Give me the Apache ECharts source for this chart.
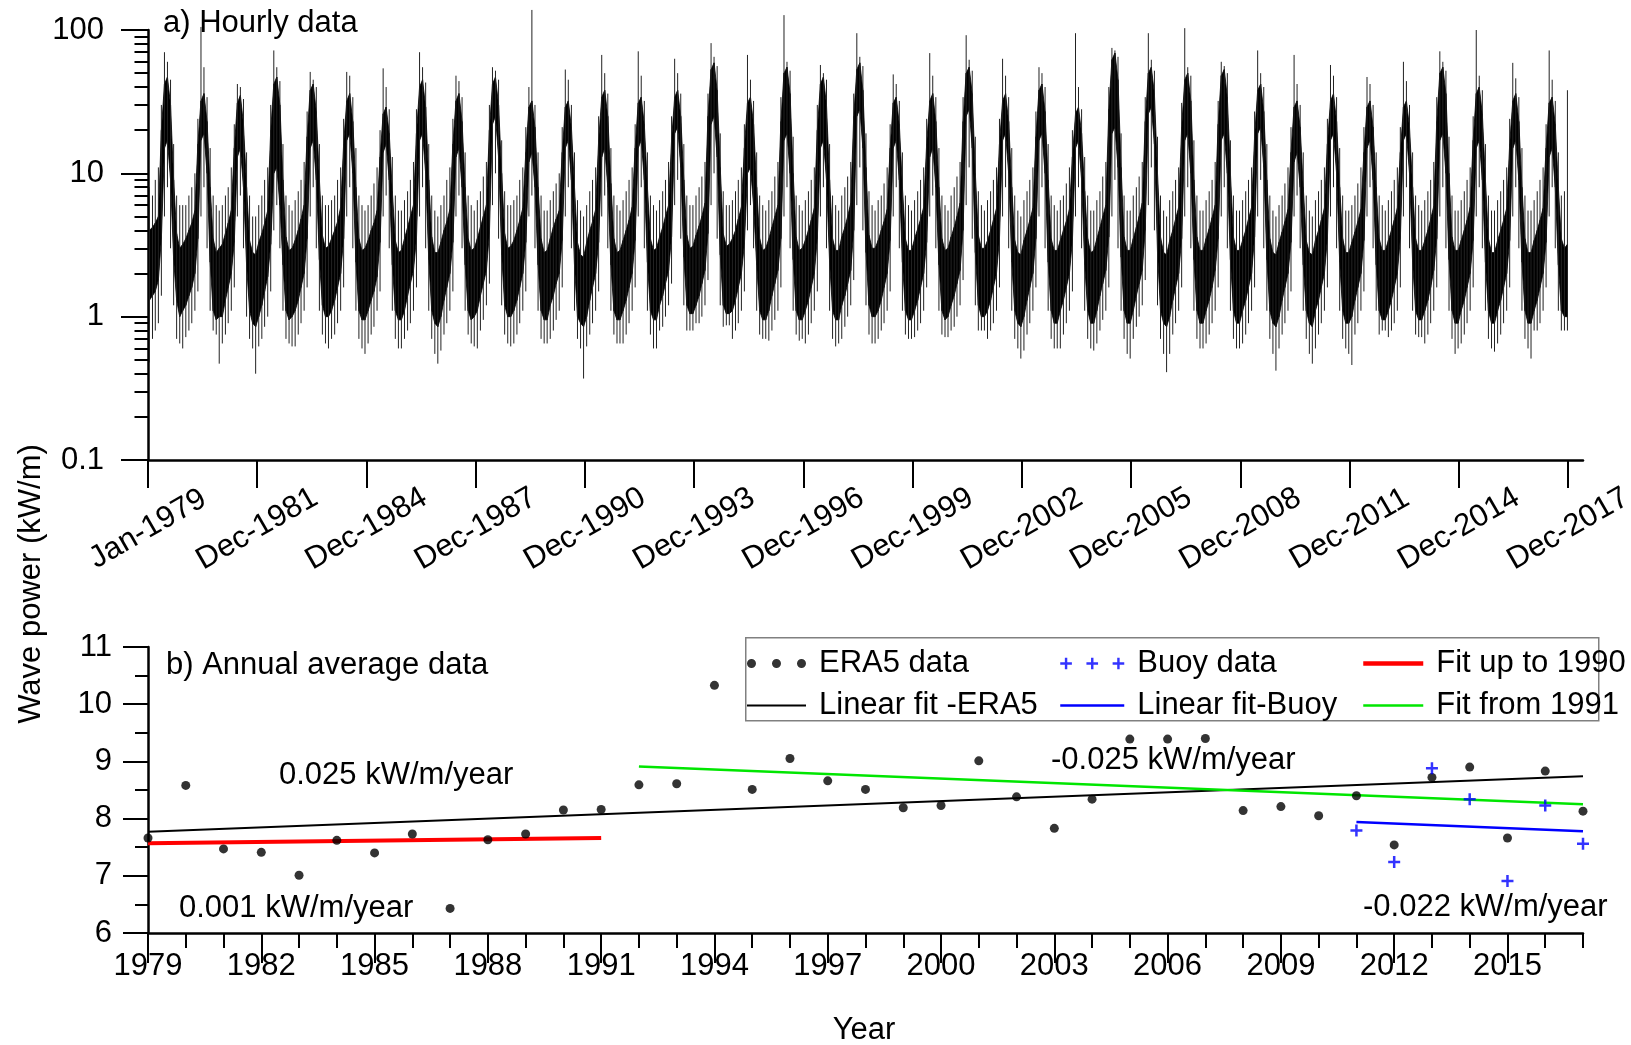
<!DOCTYPE html>
<html>
<head>
<meta charset="utf-8">
<script src="https://cdn.jsdelivr.net/npm/echarts@6/dist/echarts.min.js"></script>
<style>
  html, body { margin: 0; padding: 0; background: #fff; }
  #chart { width: 1631px; height: 1045px; }
</style>
</head>
<body>
<div id="chart"></div>
<script>
// ---- panel a: hourly wave power, summarised per month (Jan..Dec of each year 1979-2017)
// bodyHi / bodyLo = dense black band, spikeHi / spikeLo = extreme hourly spikes
const firstYear = 1979
const bodyHi = [
  [4.0,4.2,4.5,5,20,42,47,30,9,3.8,3,3.2],
  [3.5,4,4.5,5.5,16,32,36,23,8,3.5,2.8,3],
  [3.2,3.8,4.5,5.5,15,31,35,22,8,3.4,2.8,2.7],
  [3.3,3.8,4.5,5.5,20,42,47,30,9,3.6,2.9,3],
  [3.4,4,4.8,6,18,38,42,27,9,3.7,3,3.1],
  [3.5,4,4.6,5.8,16,32,36,23,8,3.5,2.9,3],
  [3.4,4,4.5,5.5,13,26,29,19,7.5,3.4,2.8,2.9],
  [3.5,4.2,5,6,19,40,45,29,9,3.6,2.8,2.8],
  [3.3,4,4.6,5.6,16,32,36,23,8,3.5,2.9,3],
  [3.5,4.2,5,6,20,42,47,30,10,3.8,3,3.1],
  [3.4,4,4.7,5.7,14,29,32,21,8,3.5,2.8,2.9],
  [3.5,4.2,4.8,5.5,14,29,32,21,8,3.3,2.7,2.6],
  [3.3,4,4.6,5.6,17,34,38,25,8.5,3.5,2.8,2.9],
  [3.4,4,4.7,5.8,15,31,34,22,8,3.5,2.9,3],
  [3.6,4.2,5,6,17,34,38,25,9,3.7,3,3.1],
  [3.7,4.3,5,6.2,25,53,59,38,11,3.8,3.1,3.2],
  [3.5,4,4.8,5.8,15,31,34,22,8,3.5,2.9,3],
  [3.5,4.2,5,6,23,50,55,36,10,3.6,2.9,3],
  [3.4,4,4.7,5.7,20,42,47,30,9,3.5,2.9,2.9],
  [3.6,4.2,5,6.2,25,53,59,38,11,3.7,3,3],
  [3.4,4,4.6,5.6,15,31,34,22,8,3.5,2.9,2.9],
  [3.5,4.1,4.8,5.8,16,32,36,23,8,3.5,2.9,3],
  [3.6,4.2,5,6.2,23,50,55,36,10,3.7,3,3],
  [3.4,4,4.7,5.7,16,32,36,23,8,3.4,2.8,2.7],
  [3.4,4,4.7,5.7,18,38,42,27,9,3.5,2.9,2.9],
  [3.4,4,4.6,5.6,13,26,29,19,7.5,3.5,2.8,2.9],
  [3.5,4.2,5,6,28,62,69,45,11,3.6,2.9,2.9],
  [3.5,4.2,5,6.2,23,50,55,36,10,3.6,2.8,2.7],
  [3.4,4,4.8,5.8,21,45,50,32,9,3.6,2.9,2.9],
  [3.5,4.1,4.9,6,22,48,53,34,10,3.6,2.9,2.9],
  [3.4,4,4.8,5.8,18,38,42,27,9,3.5,2.8,2.7],
  [3.3,3.9,4.6,5.6,14,29,32,21,8,3.4,2.8,2.7],
  [3.4,4,4.7,5.7,16,32,36,23,8,3.5,2.8,2.8],
  [3.3,3.9,4.6,5.6,14,29,32,21,8,3.5,2.9,2.9],
  [3.4,4,4.7,5.7,14,29,32,21,8,3.5,2.9,2.9],
  [3.4,4,4.8,5.9,23,50,55,36,10,3.6,2.9,2.9],
  [3.4,4,4.7,5.8,17,36,40,26,9,3.5,2.8,2.8],
  [3.4,4,4.7,5.7,16,32,36,23,8,3.5,2.8,2.8],
  [3.4,4,4.7,5.7,15,31,34,22,8,3.5,3,3.2]
]
const bodyLo = [
  [1.3,1.4,1.5,1.8,3.5,15,17,9,2.5,1.3,1.0,1.1],
  [1.2,1.4,1.6,2,3.5,17,19,10,2.4,1.1,0.95,1],
  [1.0,1.3,1.6,2,3.3,13,15,8,2.3,1.1,0.9,0.85],
  [1.0,1.2,1.5,1.9,3.2,10,11,6,2.3,1.1,0.95,1],
  [1.1,1.3,1.6,2,3.5,15,17,9,2.5,1.2,1.0,1.0],
  [1.1,1.3,1.6,2,3.5,17,19,10,2.4,1.1,0.95,0.95],
  [1.1,1.3,1.5,1.9,3.3,14,16,9,2.3,1.1,0.95,0.95],
  [1.1,1.4,1.7,2.1,3.5,17,19,10,2.5,1.1,0.9,0.85],
  [1.0,1.3,1.6,2,3.3,13,15,8,2.3,1.1,0.95,1],
  [1.1,1.4,1.7,2.1,3.8,22,25,13,2.7,1.2,1.0,1.0],
  [1.1,1.3,1.6,2,3.3,12,14,8,2.3,1.1,0.95,0.95],
  [1.2,1.4,1.7,2,3.4,15,17,9,2.3,1.0,0.9,0.85],
  [1.0,1.3,1.6,2,3.3,13,15,8,2.3,1.1,0.95,0.95],
  [1.1,1.3,1.6,2,3.4,15,17,9,2.4,1.1,0.95,0.95],
  [1.2,1.4,1.7,2.1,3.6,19,21,11,2.6,1.2,1.05,1.05],
  [1.2,1.4,1.7,2.1,3.8,22,25,13,2.7,1.2,1.05,1.05],
  [1.1,1.3,1.6,2,3.2,10,11,6,2.3,1.1,0.95,0.95],
  [1.1,1.4,1.7,2.1,3.5,17,19,10,2.5,1.1,0.95,0.95],
  [1.1,1.3,1.6,2,3.5,15,17,9,2.4,1.1,0.95,0.95],
  [1.2,1.4,1.7,2.1,4,25,28,15,2.8,1.2,1.0,1.0],
  [1.1,1.3,1.6,2,3.4,15,17,9,2.4,1.1,0.95,0.95],
  [1.1,1.3,1.6,2,3.3,13,15,8,2.3,1.1,0.95,1.0],
  [1.2,1.4,1.7,2.1,4,25,28,15,2.8,1.2,1.0,1.0],
  [1.1,1.3,1.6,2,3.5,17,19,10,2.4,1.1,0.9,0.85],
  [1.0,1.3,1.6,2,3.5,17,19,10,2.4,1.1,0.9,0.9],
  [1.1,1.3,1.6,2,3.4,15,17,9,2.3,1.1,0.9,0.9],
  [1.1,1.4,1.7,2.1,3.6,19,21,11,2.6,1.1,0.9,0.9],
  [1.1,1.4,1.7,2.1,4,26,29,16,2.8,1.1,0.9,0.85],
  [1.0,1.3,1.6,2,3.5,17,19,10,2.5,1.1,0.9,0.9],
  [1.1,1.3,1.6,2.1,3.5,17,19,10,2.5,1.1,0.9,0.9],
  [1.1,1.3,1.6,2,3.6,19,21,11,2.5,1.1,0.9,0.85],
  [1.0,1.3,1.6,2,3.3,12,14,8,2.3,1.1,0.9,0.85],
  [1.1,1.3,1.6,2,3.5,17,19,10,2.4,1.1,0.9,0.9],
  [1.0,1.3,1.6,2,3.4,15,17,9,2.3,1.1,0.95,0.95],
  [1.1,1.3,1.6,2,3.5,17,19,10,2.4,1.1,0.95,0.95],
  [1.1,1.3,1.6,2.1,3.5,17,19,10,2.5,1.1,0.9,0.9],
  [1.1,1.3,1.6,2,3.4,15,17,9,2.4,1.1,0.9,0.9],
  [1.1,1.3,1.6,2,3.4,15,17,9,2.4,1.1,0.9,0.9],
  [1.1,1.3,1.6,2,3.3,13,15,8,2.3,1.1,1.0,1.0]
]
const spikeHi = [
  [8,7,9,11,30,70,60,45,16,7,6,6],
  [6,7,8,10,24,105,55,34,15,7,6,5.5],
  [6,7,8,11,22,42,40,33,14,7,5,5],
  [6,7,9,11,30,72,55,44,16,7,6,5.5],
  [6.5,7.5,9,12,27,51,45,40,16,7,6,6],
  [6.5,7,9,11,24,51,48,34,15,7,6,5.5],
  [6,7,8.5,11,20,54,40,28,13,7,5.5,5.5],
  [6.5,7.5,9,12,28,70,55,43,16,7,5.5,5],
  [6,7,9,11,24,48,44,34,14,7,6,5.5],
  [6.5,7.5,9.5,12,30,55,52,45,17,7.5,6,6],
  [6.5,7,9,11,21,40,138,30,14,7,5.5,5.5],
  [6.5,7.5,8.5,10,21,53,45,30,14,6.5,5.5,5],
  [6,7.5,9,11,25,67,50,36,15,7,6,5.5],
  [6.5,7.5,9,11,22,71,48,32,14,7,6,5.5],
  [6.5,7.5,9,12,25,63,50,36,16,7,6,6],
  [7,8,9.5,12,36,81,65,56,19,7.5,6,6],
  [6.5,7.5,9,11,22,67,45,32,14,7,6,5.5],
  [6.5,7.5,9.5,12,34,127,60,52,18,7,6,5.5],
  [6.5,7.5,9,11,30,57,50,45,16,7,6,5.5],
  [7,8,9.5,12,36,95,65,56,19,7.5,6,5.5],
  [6.5,7,8.5,11,22,49,42,32,14,7,6,5.5],
  [6.5,7.5,9,11,24,69,48,34,15,7,6,5.5],
  [7,8,9.5,12,34,92,62,52,18,7.5,6,5.5],
  [6.5,7.5,9,11,24,63,48,34,15,7,5.5,5],
  [6.5,7.5,9,11,27,55,50,40,16,7,6,5.5],
  [6.5,7,8.5,11,20,95,40,28,13,7,5.5,5.5],
  [6.5,7.5,9.5,12,40,75,72,65,19,7,5.5,5.5],
  [7,8,9.5,12,34,95,62,52,18,7,5.5,5],
  [6.5,7.5,9,11,31,103,55,48,17,7,5.5,5.5],
  [6.5,7.5,9,12,32,60,56,50,17,7,5.5,5.5],
  [6.5,7.5,9,11,27,72,50,40,16,7,5.5,5],
  [6,7,8.5,11,21,67,42,30,14,7,5.5,5],
  [6.5,7.5,9,11,24,57,48,34,15,7,5.5,5.5],
  [6,7,8.5,11,21,47,42,30,14,7,6,5.5],
  [6.5,7.5,9,11,21,60,44,30,14,7,6,5.5],
  [6.5,7.5,9,12,34,71,60,52,18,7,5.5,5.5],
  [6.5,7.5,9,11,25,100,48,38,16,7,5.5,5.5],
  [6.5,7.5,9,11,24,59,46,34,15,7,5.5,5.5],
  [6.5,7.5,9,11,22,72,45,32,14,7,7.5,38]
]
const spikeLo = [
  [0.48,0.7,0.8,0.9,1.4,5,8,3,1.2,0.7,0.65,0.6],
  [0.72,0.8,0.9,1.1,1.5,5,8,3,1.1,0.8,0.75,0.47],
  [0.65,0.75,0.9,1.1,1.6,5,7,3,1.0,0.7,0.6,0.4],
  [0.62,0.7,0.85,1,1.5,4,6,3,1.1,0.7,0.65,0.62],
  [0.62,0.75,0.9,1.1,1.6,5,8,3,1.1,0.75,0.65,0.6],
  [0.7,0.75,0.9,1.1,1.6,5,8,3,1.1,0.7,0.6,0.55],
  [0.65,0.75,0.85,1.1,1.5,5,7,3,1.1,0.7,0.6,0.6],
  [0.7,0.8,0.9,1.1,1.6,5,8,3,1.1,0.7,0.55,0.47],
  [0.58,0.75,0.9,1.1,1.5,5,7,3,1.1,0.75,0.65,0.62],
  [0.6,0.8,0.95,1.2,1.7,6,10,3.5,1.2,0.75,0.65,0.62],
  [0.65,0.75,0.9,1.1,1.5,5,7,3,1.1,0.7,0.65,0.65],
  [0.7,0.8,0.95,1.1,1.6,5,8,3,1.1,0.7,0.6,0.37],
  [0.62,0.75,0.9,1.1,1.5,5,7,3,1.1,0.75,0.65,0.65],
  [0.65,0.75,0.9,1.1,1.6,5,8,3,1.1,0.75,0.6,0.6],
  [0.8,0.85,1,1.2,1.7,6,9,3.5,1.2,0.8,0.8,0.8],
  [0.9,0.9,1,1.2,1.8,6,10,3.5,1.2,0.85,0.87,0.87],
  [0.7,0.8,0.9,1.1,1.5,4,6,3,1.1,0.75,0.7,0.7],
  [0.68,0.8,0.95,1.1,1.6,5,8,3,1.1,0.75,0.68,0.7],
  [0.65,0.75,0.9,1.1,1.5,5,8,3,1.1,0.7,0.62,0.65],
  [0.7,0.85,1,1.2,1.8,6,11,4,1.2,0.75,0.65,0.65],
  [0.7,0.8,0.9,1.1,1.5,5,8,3,1.1,0.75,0.7,0.7],
  [0.72,0.8,0.9,1.1,1.6,5,7,3,1.1,0.75,0.72,0.72],
  [0.8,0.85,1,1.2,1.8,6,11,3.5,1.2,0.8,0.8,0.8],
  [0.7,0.8,0.9,1.1,1.6,5,8,3,1.1,0.7,0.6,0.51],
  [0.58,0.75,0.9,1.1,1.6,5,8,3,1.1,0.7,0.6,0.6],
  [0.6,0.75,0.9,1.1,1.5,5,8,3,1.1,0.7,0.6,0.58],
  [0.65,0.8,0.95,1.1,1.6,5,9,3,1.1,0.7,0.55,0.51],
  [0.7,0.85,1,1.2,1.8,6,11,4,1.2,0.7,0.55,0.41],
  [0.55,0.75,0.9,1.1,1.6,5,8,3,1.1,0.7,0.6,0.6],
  [0.65,0.75,0.9,1.1,1.6,5,8,3,1.1,0.7,0.6,0.6],
  [0.65,0.75,0.9,1.1,1.6,5,9,3,1.1,0.7,0.55,0.42],
  [0.6,0.75,0.9,1.1,1.5,5,7,3,1.1,0.7,0.55,0.47],
  [0.6,0.75,0.9,1.1,1.6,5,8,3,1.1,0.7,0.6,0.55],
  [0.46,0.75,0.9,1.1,1.5,5,8,3,1.1,0.75,0.8,0.8],
  [0.72,0.8,0.9,1.1,1.6,5,8,3,1.1,0.75,0.72,0.72],
  [0.65,0.75,0.9,1.1,1.6,5,8,3,1.1,0.7,0.55,0.6],
  [0.65,0.75,0.9,1.1,1.6,5,8,3,1.1,0.7,0.6,0.57],
  [0.65,0.75,0.9,1.1,1.6,5,8,3,1.1,0.7,0.6,0.51],
  [0.8,0.8,0.9,1.1,1.6,5,8,3,1.1,0.8,0.8,0.8]
]

// x ticks of panel a, in days since 1 Jan 1979 (every 1095 days)
const hourlyTicks = [0, 1095, 2190, 3285, 4380, 5475, 6570, 7665, 8760, 9855, 10950, 12045, 13140, 14235]
const logMinorTicks = [0.2,0.3,0.4,0.5,0.6,0.7,0.8,0.9,2,3,4,5,6,7,8,9,20,30,40,50,60,70,80,90]

// ---- panel b: annual averages
const eraYears = [1979,1980,1981,1982,1983,1984,1985,1986,1987,1988,1989,1990,1991,1992,1993,1994,1995,1996,1997,1998,
  1999,2000,2001,2002,2003,2004,2005,2006,2007,2008,2009,2010,2011,2012,2013,2014,2015,2016,2017]
const eraValues = [7.66,8.58,7.47,7.41,7.01,7.62,7.40,7.73,6.43,7.63,7.73,8.15,8.16,8.59,8.61,10.33,8.51,9.05,8.66,8.51,
  8.19,8.23,9.01,8.38,7.83,8.34,9.39,9.39,9.40,8.14,8.21,8.05,8.40,7.54,8.72,8.90,7.66,8.83,8.13]
const buoyYears = [2011,2012,2013,2014,2015,2016,2017]
const buoyValues = [7.79,7.24,8.88,8.34,6.91,8.23,7.56]

const fitEraYears = [1979, 2017], fitEraValues = [7.77, 8.74]
const fitBuoyYears = [2011, 2017], fitBuoyValues = [7.94, 7.78]
const fitEarlyYears = [1979, 1991], fitEarlyValues = [7.57, 7.66]
const fitLateYears = [1992, 2017], fitLateValues = [8.91, 8.25]

const yearTicks = [1979,1982,1985,1988,1991,1994,1997,2000,2003,2006,2009,2012,2015]

const FONT = '"Liberation Sans", Arial, Helvetica, sans-serif'
const MONTHS = ['Jan','Feb','Mar','Apr','May','Jun','Jul','Aug','Sep','Oct','Nov','Dec']
const DAY0 = Date.UTC(1979, 0, 1)

function dayLabel(d) {
    const t = new Date(DAY0 + d * 864e5)
    return MONTHS[t.getUTCMonth()] + '-' + t.getUTCFullYear()
}

// one row per month: [day, bodyLo, bodyHi, spikeLo, spikeHi]
const hourlyRows = []
bodyHi.forEach((row, y) => {
    row.forEach((hi, m) => {
        const day = (Date.UTC(firstYear + y, m, 15) - DAY0) / 864e5
        hourlyRows.push([day, bodyLo[y][m], hi, spikeLo[y][m], spikeHi[y][m]])
    })
})

const zip = (xs, ys) => xs.map((x, i) => [x, ys[i]])

function renderHourly(params, api) {
    const i = params.dataIndex
    const cur = hourlyRows[i]
    const next = hourlyRows[i + 1]
    const children = []
    if (next) {
        children.push({
            type: 'polygon',
            shape: {
                points: [
                    api.coord([cur[0], cur[1]]),
                    api.coord([cur[0], cur[2]]),
                    api.coord([next[0], next[2]]),
                    api.coord([next[0], next[1]])
                ]
            },
            style: { fill: '#000', stroke: '#000', lineWidth: 0.8 }
        })
    }
    const top = api.coord([cur[0], cur[4]])
    const bottom = api.coord([cur[0], cur[3]])
    children.push({
        type: 'line',
        shape: { x1: top[0], y1: top[1], x2: bottom[0], y2: bottom[1] },
        style: { stroke: '#222', lineWidth: 1 }
    })
    return { type: 'group', children }
}

const txt = { color: '#000', fontFamily: FONT, fontSize: 31 }
const legendTxt = { ...txt, padding: [0, 0, 0, 8] }
const axisLine = { show: true, lineStyle: { color: '#000', width: 2.5 } }
const tickStyle = { color: '#000', width: 2 }
const noSymbol = { opacity: 0 }

const dotsIcon = 'path://M0,4.5a4.5,4.5 0 1,0 9,0a4.5,4.5 0 1,0 -9,0zM25,4.5a4.5,4.5 0 1,0 9,0a4.5,4.5 0 1,0 -9,0zM50,4.5a4.5,4.5 0 1,0 9,0a4.5,4.5 0 1,0 -9,0z'
const plusIcon = 'path://M0,4.75h12v2.5h-12zM4.75,0h2.5v12h-2.5zM27,4.75h12v2.5h-12zM31.75,0h2.5v12h-2.5zM54,4.75h12v2.5h-12zM58.75,0h2.5v12h-2.5z'
const plusSymbol = 'path://M0,4.75h12v2.5h-12zM4.75,0h2.5v12h-2.5z'

const myChart = echarts.init(document.getElementById('chart'))

const option = {
    animation: false,
    backgroundColor: '#fff',
    grid: [
        { left: 148, right: 48, top: 30, height: 430, outerBoundsMode: 'none' },
        { left: 148, right: 48, top: 647, height: 286, outerBoundsMode: 'none' }
    ],
    xAxis: [
        {
            gridIndex: 0,
            type: 'value',
            position: 'bottom',
            min: 0,
            max: 14384,
            axisLine: axisLine,
            axisTick: { customValues: hourlyTicks, length: 28, lineStyle: tickStyle },
            axisLabel: {
                customValues: hourlyTicks,
                formatter: dayLabel,
                rotate: 30,
                align: 'center',
                verticalAlign: 'middle',
                margin: 69,
                ...txt
            },
            splitLine: { show: false }
        },
        {
            gridIndex: 1,
            type: 'value',
            position: 'bottom',
            min: 1979,
            max: 2017,
            axisLine: axisLine,
            axisTick: { customValues: yearTicks, length: 30, lineStyle: tickStyle },
            axisLabel: { customValues: yearTicks, margin: 18, formatter: v => String(v), ...txt },
            splitLine: { show: false }
        },
        {
            // yearly minor ticks
            gridIndex: 1,
            type: 'value',
            position: 'bottom',
            min: 1979,
            max: 2017,
            axisLine: { show: false },
            axisTick: { customValues: eraYears, length: 15, lineStyle: tickStyle },
            axisLabel: { show: false },
            splitLine: { show: false }
        }
    ],
    yAxis: [
        {
            gridIndex: 0,
            type: 'log',
            logBase: 10,
            position: 'left',
            min: 0.1,
            max: 100,
            axisLine: axisLine,
            axisTick: { length: 27, lineStyle: tickStyle },
            axisLabel: { margin: 44, ...txt },
            splitLine: { show: false }
        },
        {
            gridIndex: 0,
            type: 'log',
            logBase: 10,
            position: 'left',
            min: 0.1,
            max: 100,
            axisLine: { show: false },
            axisTick: { customValues: logMinorTicks, length: 13.5, lineStyle: tickStyle },
            axisLabel: { show: false },
            splitLine: { show: false }
        },
        {
            gridIndex: 1,
            type: 'value',
            position: 'left',
            min: 6,
            max: 11,
            interval: 1,
            axisLine: axisLine,
            axisTick: { length: 25, lineStyle: tickStyle },
            minorTick: { show: true, splitNumber: 2, length: 13, lineStyle: tickStyle },
            axisLabel: { margin: 36, ...txt },
            splitLine: { show: false },
            minorSplitLine: { show: false }
        }
    ],
    legend: [
        {
            orient: 'vertical', left: 746, top: 648, padding: 0, itemGap: 11,
            itemWidth: 59, itemHeight: 10, selectedMode: false, textStyle: legendTxt,
            data: [
                { name: 'ERA5 data', icon: dotsIcon },
                { name: 'Linear fit -ERA5', itemStyle: noSymbol, lineStyle: { width: 2 } }
            ]
        },
        {
            orient: 'vertical', left: 1059, top: 648, padding: 0, itemGap: 11,
            itemWidth: 64, itemHeight: 12, selectedMode: false, textStyle: legendTxt,
            data: [
                { name: 'Buoy data', icon: plusIcon },
                { name: 'Linear fit-Buoy', itemStyle: noSymbol, lineStyle: { width: 2.5 } }
            ]
        },
        {
            orient: 'vertical', left: 1361, top: 648, padding: 0, itemGap: 11,
            itemWidth: 60, itemHeight: 10, selectedMode: false, textStyle: legendTxt,
            data: [
                { name: 'Fit up to 1990', itemStyle: noSymbol, lineStyle: { width: 4.5 } },
                { name: 'Fit from 1991', itemStyle: noSymbol, lineStyle: { width: 2.5 } }
            ]
        }
    ],
    graphic: [
        {
            type: 'rect', left: 745, top: 637, z: 0,
            shape: { width: 853, height: 83 },
            style: { fill: '#fff', stroke: '#808080', lineWidth: 1.5 }
        },
        { type: 'text', left: 163, top: 8, style: { text: 'a) Hourly data', fill: '#000', font: '31px ' + FONT } },
        { type: 'text', left: 166, top: 650, style: { text: 'b) Annual average data', fill: '#000', font: '31px ' + FONT } },
        { type: 'text', left: 279, top: 760, style: { text: '0.025 kW/m/year', fill: '#000', font: '31px ' + FONT } },
        { type: 'text', left: 179, top: 893, style: { text: '0.001 kW/m/year', fill: '#000', font: '31px ' + FONT } },
        { type: 'text', left: 1051, top: 745, style: { text: '-0.025 kW/m/year', fill: '#000', font: '31px ' + FONT } },
        { type: 'text', left: 1363, top: 892, style: { text: '-0.022 kW/m/year', fill: '#000', font: '31px ' + FONT } },
        {
            type: 'text', x: 31, y: 584, rotation: Math.PI / 2,
            style: { text: 'Wave power (kW/m)', fill: '#000', font: '31px ' + FONT, align: 'center', verticalAlign: 'middle' }
        },
        {
            type: 'text', x: 864, y: 1030,
            style: { text: 'Year', fill: '#000', font: '31px ' + FONT, align: 'center', verticalAlign: 'middle' }
        }
    ],
    series: [
        {
            name: 'Hourly',
            type: 'custom',
            xAxisIndex: 0,
            yAxisIndex: 0,
            silent: true,
            renderItem: renderHourly,
            encode: { x: 0, y: [3, 4] },
            data: hourlyRows
        },
        {
            name: 'Linear fit -ERA5', type: 'line', xAxisIndex: 1, yAxisIndex: 2,
            symbol: 'none', color: '#000', lineStyle: { color: '#000', width: 2 },
            data: zip(fitEraYears, fitEraValues)
        },
        {
            name: 'Linear fit-Buoy', type: 'line', xAxisIndex: 1, yAxisIndex: 2,
            symbol: 'none', color: '#0000ff', lineStyle: { color: '#0000ff', width: 2.5 },
            data: zip(fitBuoyYears, fitBuoyValues)
        },
        {
            name: 'Fit up to 1990', type: 'line', xAxisIndex: 1, yAxisIndex: 2,
            symbol: 'none', color: '#ff0000', lineStyle: { color: '#ff0000', width: 4 },
            data: zip(fitEarlyYears, fitEarlyValues)
        },
        {
            name: 'Fit from 1991', type: 'line', xAxisIndex: 1, yAxisIndex: 2,
            symbol: 'none', color: '#00e600', lineStyle: { color: '#00e600', width: 2.5 },
            data: zip(fitLateYears, fitLateValues)
        },
        {
            name: 'ERA5 data', type: 'scatter', xAxisIndex: 1, yAxisIndex: 2,
            symbol: 'circle', symbolSize: 9, itemStyle: { color: '#000' }, z: 5,
            data: zip(eraYears, eraValues)
        },
        {
            name: 'Buoy data', type: 'scatter', xAxisIndex: 1, yAxisIndex: 2,
            symbol: plusSymbol, symbolSize: 12, itemStyle: { color: '#0000ff' }, z: 5,
            data: zip(buoyYears, buoyValues)
        }
    ]
}

myChart.setOption(option)
</script>
</body>
</html>
